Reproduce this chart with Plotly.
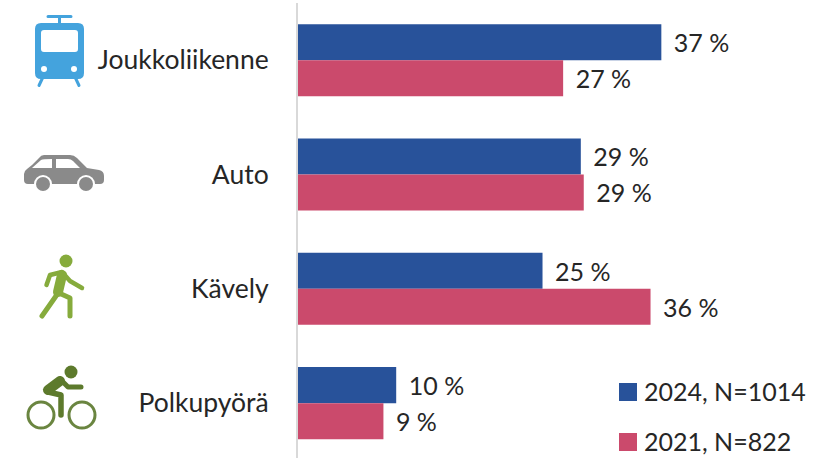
import base64
import plotly.graph_objects as go

categories = ["Joukkoliikenne", "Auto", "Kävely", "Polkupyörä"]
series_2024_name = "2024, N=1014"
series_2021_name = "2021, N=822"
values_2024 = [37.0, 28.8, 24.9, 10.0]
values_2021 = [27.0, 29.1, 35.9, 8.7]
labels_2024 = ["37 %", "29 %", "25 %", "10 %"]
labels_2021 = ["27 %", "29 %", "36 %", "9 %"]

BLUE = "#28529a"
PINK = "#cb4a6c"
TEXT = "#262626"
FONT = "Lato"
W, H = 818, 458
L, T = 298, 3
PW, PH = W - L, H - T


def px(x):
    return (x - L) / PW


def py(y):
    return 1 - (y - T) / PH


ICONS = {
    "train": ((30, 10, 60, 80), '''
      <g fill="none" stroke="#44a3dd" stroke-linecap="round" stroke-width="3">
        <path d="M48 16.5H71M59.5 16.5V25M43 77L39 85.5M75 77L79 85.5"/></g>
      <path fill="#44a3dd" fill-rule="evenodd" d="M41 23H78Q84 23 84 29V73Q84 79 78 79H41Q35 79 35 73V29Q35 23 41 23Z
        M44 30Q41 30 41 33V49Q41 52 44 52H75Q78 52 78 49V33Q78 30 75 30Z"/>
      <circle cx="44" cy="69" r="3" fill="#fff"/><circle cx="74" cy="69" r="3" fill="#fff"/>'''),
    "car": ((20, 150, 90, 46), '''
      <path fill="#8a8a8a" d="M44 155H70Q74 155 77 158L87 168L99 170Q104 171 104 176V180Q104 184 100 184H28Q24 184 24 180V174Q24 171 27 169L32 165L39 158Q41 155 44 155Z"/>
      <path fill="#fff" d="M32 168L41 160Q43 159 52 159V168ZM56 159H68Q71 159 73 161L80 168H56Z"/>
      <circle cx="43" cy="184" r="9" fill="#fff"/><circle cx="86" cy="184" r="9" fill="#fff"/>
      <circle cx="43" cy="184" r="7" fill="#8a8a8a"/><circle cx="86" cy="184" r="7" fill="#8a8a8a"/>'''),
    "walk": ((35, 250, 55, 72), '''
      <circle cx="66" cy="261" r="6.5" fill="#86ab3c"/>
      <g fill="none" stroke="#86ab3c" stroke-linecap="round" stroke-linejoin="round">
        <path stroke-width="4.5" d="M46.5 285L50 275L62 272L70 281L82 288"/>
        <path stroke-width="10" d="M62 275L58 292"/>
        <path stroke-width="5" d="M56 296L42 316"/>
        <path stroke-width="5" d="M59 293L70 298V316"/></g>'''),
    "bike": ((22, 360, 80, 72), '''
      <circle cx="71" cy="372" r="6.5" fill="#5d7a2c"/>
      <g fill="none" stroke="#6a8540" stroke-width="3"><circle cx="41" cy="415" r="13"/><circle cx="82" cy="415" r="13"/></g>
      <g fill="none" stroke="#5d7a2c" stroke-linejoin="round" stroke-linecap="round">
        <path stroke-width="10" d="M48 390L60 381"/>
        <path stroke-width="5" d="M60 379L68 387H81"/>
        <path stroke-width="5.5" d="M48 392L61 395V415"/></g>'''),
}


def icon_image(box, body):
    x, y, w, h = box
    svg = (f'<svg xmlns="http://www.w3.org/2000/svg" width="{w*3}" height="{h*3}" '
           f'viewBox="{x} {y} {w} {h}">{body}</svg>')
    uri = "data:image/svg+xml;base64," + base64.b64encode(svg.encode()).decode()
    return dict(source=uri, xref="paper", yref="paper", x=px(x), y=py(y),
                sizex=w / PW, sizey=h / PH, sizing="stretch",
                xanchor="left", yanchor="top", layer="above")


fig = go.Figure()
for name, vals, labs, color in [
    (series_2024_name, values_2024, labels_2024, BLUE),
    (series_2021_name, values_2021, labels_2021, PINK),
]:
    fig.add_trace(go.Bar(
        name=name, y=categories, x=vals, orientation="h", marker=dict(color=color, line_width=0),
        text=labs, texttemplate="\u00a0\u2009%{text}", textposition="outside", cliponaxis=False,
        textfont=dict(family=FONT, size=25, color=TEXT),
    ))

shapes, annos = [], []
for name, color, y0 in [(series_2024_name, BLUE, 383), (series_2021_name, PINK, 433)]:
    shapes.append(dict(type="rect", xref="paper", yref="paper", x0=px(619), x1=px(637),
                       y0=py(y0), y1=py(y0 + 18), fillcolor=color, line_width=0))
    annos.append(dict(text=name, xref="paper", yref="paper", x=px(642), y=py(y0 + 8),
                      xanchor="left", yanchor="middle", showarrow=False,
                      font=dict(family=FONT, size=25, color=TEXT)))

fig.update_layout(
    width=W, height=H, barmode="group", bargap=0.37, bargroupgap=0,
    margin=dict(l=L, r=0, t=T, b=0, autoexpand=False),
    paper_bgcolor="white", plot_bgcolor="white", showlegend=False,
    font=dict(family=FONT, size=25, color=TEXT),
    xaxis=dict(range=[0, PW / 9.82], visible=False, fixedrange=True),
    yaxis=dict(range=[3.48, -0.5], automargin=False, showline=True, linecolor="#d9d9d9", linewidth=2,
               showgrid=False, ticks="", ticklabelstandoff=22, fixedrange=True,
               tickfont=dict(family=FONT, size=26.5, color=TEXT)),
    shapes=shapes, annotations=annos,
    images=[icon_image(*v) for v in ICONS.values()],
)
fig.write_html("out.html", config=dict(displayModeBar=False),
               post_script="document.body.style.margin='0';")
